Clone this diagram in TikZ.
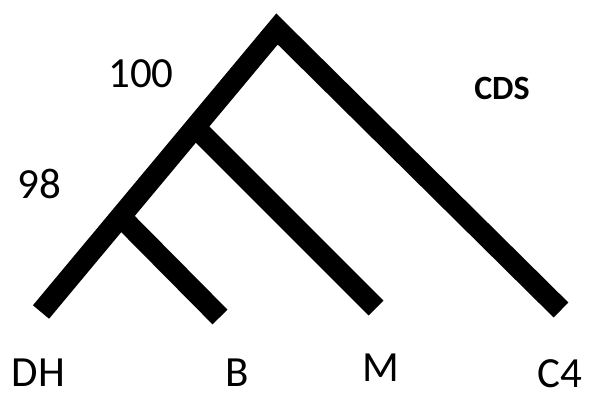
\documentclass[tikz,border=0pt]{standalone}
\usepackage{fontspec}
\setmainfont{Carlito}
\begin{document}
\begin{tikzpicture}[x=1pt,y=-1pt,
  branch/.style={line width=21pt,line cap=butt,line join=miter,black},
  lbl/.style={inner sep=0pt,font=\fontsize{43}{43}\selectfont},
  boot/.style={inner sep=0pt,font=\fontsize{43}{43}\selectfont},
  title/.style={inner sep=0pt,font=\fontsize{34}{34}\selectfont\bfseries}]
\useasboundingbox (0,0) rectangle (590,394);
\coordinate (dh) at (41,312);
\coordinate (root) at (277,29);
\coordinate (c4) at (561,310);
\coordinate (m) at (376,308);
\coordinate (b) at (220,317);
\coordinate (jm) at (195.2,127.2);
\coordinate (jb) at (120.6,216.6);
\draw[branch] (dh) -- (root) -- (c4);
\draw[branch] (jm) -- (m);
\draw[branch] (jb) -- (b);
\node[boot] (n100) at (141,74) {100};
\node[boot] (n98) at (39.5,184) {98};
\node[title] (cds) at (502,88) {CDS};
\node[lbl] (ldh) at (38.5,373) {DH};
\node[lbl] (lb) at (237.5,373) {B};
\node[lbl] (lm) at (381,368) {M};
\node[lbl] (lc4) at (560,373.5) {C4};
\end{tikzpicture}
\end{document}
